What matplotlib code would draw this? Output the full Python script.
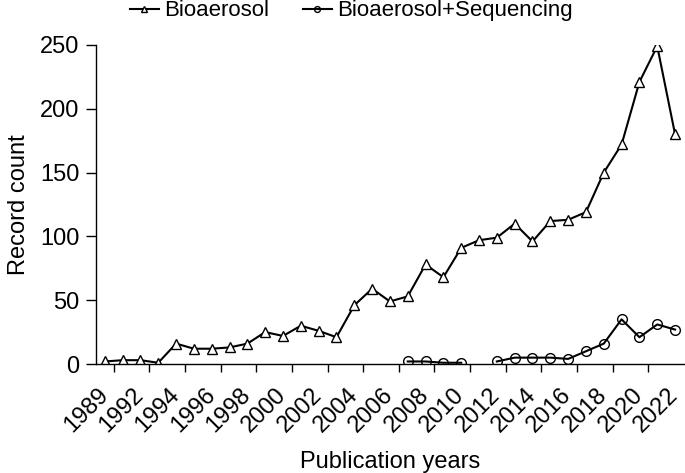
import numpy as np
import matplotlib
matplotlib.use('Agg')
import matplotlib.pyplot as plt

plt.rcParams['font.family'] = ['Liberation Sans', 'DejaVu Sans']

# publication years (no entry for 1990)
years = [1989, 1991] + list(range(1992, 2023))

bioaerosol = [2, 3, 3, 1, 16, 12, 12, 13, 16, 25, 22, 30, 26, 21, 46, 59, 49, 53,
              78, 68, 91, 97, 99, 110, 96, 112, 113, 119, 150, 172, 221, 249, 180]

nan = np.nan
bio_seq = [nan, nan, nan, nan, nan, nan, nan, nan, nan, nan, nan, nan, nan, nan,
           nan, nan, nan, 2, 2, 1, 1, nan, 2, 5, 5, 5, 4, 10, 16, 35, 21, 31, 27]

x = np.arange(len(years))

fig = plt.figure(figsize=(6.85, 4.73), dpi=100)
ax = fig.add_axes([0.140, 0.2304, 0.8585, 0.6746])

ax.plot(x, bioaerosol, color='black', lw=1.5, marker='^', ms=7,
        mfc='white', mec='black', mew=1.0, label='Bioaerosol')
ax.plot(x, bio_seq, color='black', lw=1.5, marker='o', ms=7,
        mfc='none', mec='black', mew=1.0, label='Bioaerosol+Sequencing')

ax.set_xlim(-0.5, len(years) - 0.5)
ax.set_ylim(0, 250)
ax.set_yticks([0, 50, 100, 150, 200, 250])

# tick marks between categories, labels at every other category
ax.set_xticks(np.arange(0.5, len(years) - 1, 2))
ax.set_xticklabels([])
ax.set_xticks(x[::2], minor=True)
ax.set_xticklabels([str(y) for y in years[::2]], minor=True, rotation=45,
                   ha='right', va='center', rotation_mode='anchor', fontsize=17)
ax.tick_params(axis='x', which='minor', length=0, pad=20)
ax.tick_params(axis='x', which='major', length=6, width=1)
ax.tick_params(axis='y', length=7, width=1, labelsize=17, pad=5)

for s in ['top', 'right']:
    ax.spines[s].set_visible(False)
for s in ['left', 'bottom']:
    ax.spines[s].set_linewidth(1)

ax.set_xlabel('Publication years', fontsize=17, labelpad=10)
ax.set_ylabel('Record count', fontsize=17, labelpad=7)

fig.legend(loc='center', bbox_to_anchor=(0.513, 0.977), ncol=2, frameon=False,
           fontsize=16, handlelength=1.3, columnspacing=1.5, handletextpad=0.25,
           markerscale=0.6)

fig.savefig('out.png', dpi=100)
